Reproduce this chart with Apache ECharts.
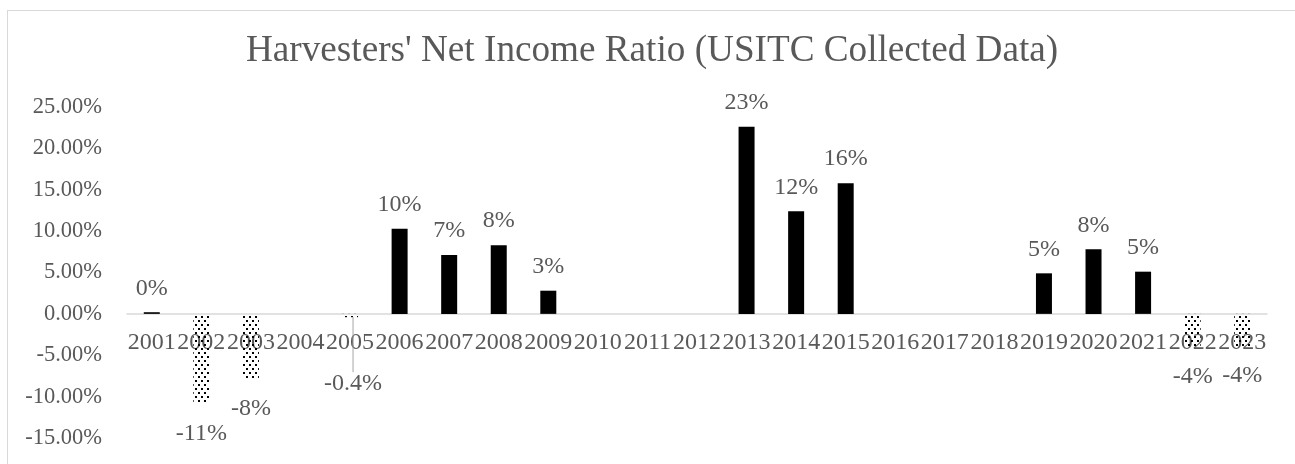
<!DOCTYPE html>
<html>
<head>
<meta charset="utf-8">
<script src="https://cdn.jsdelivr.net/npm/echarts@6/dist/echarts.min.js"></script>
<style>
  html, body { margin: 0; padding: 0; background: #fff; }
  #frame { position: absolute; left: 7px; top: 10px; width: 1300px; height: 470px; border: 1px solid #d9d9d9; }
  #chart { position: absolute; left: 0; top: 0; width: 1295px; height: 464px; }
</style>
</head>
<body>
<div id="frame"></div>
<div id="chart"></div>
<script>
// data (percent)
const years = ['2001','2002','2003','2004','2005','2006','2007','2008','2009','2010','2011','2012',
               '2013','2014','2015','2016','2017','2018','2019','2020','2021','2022','2023']
const ratios = [0.2, -10.8, -7.8, null, -0.4, 10.3, 7.1, 8.3, 2.8, null, null, null,
                22.6, 12.4, 15.8, null, null, null, 4.9, 7.8, 5.1, -4.0, -3.9]
const barLabels = ['0%','-11%','-8%','','-0.4%','10%','7%','8%','3%','','','',
                   '23%','12%','16%','','','','5%','8%','5%','-4%','-4%']
const yTicks = { min: -15, max: 25, interval: 5 }

const TEXT = '#595959'
const FONT = 'Liberation Serif'
const GRID = { left: 127, right: 28, top: 107, bottom: 26 }

// dotted fill for the negative bars
function dotPattern() {
  const c = document.createElement('canvas')
  c.width = 6; c.height = 8
  const g = c.getContext('2d')
  g.fillStyle = '#000'
  g.fillRect(0, 0, 2, 2)
  g.fillRect(3, 4, 2, 2)
  return c
}
const dots = { image: dotPattern(), repeat: 'repeat' }

const el = document.getElementById('chart')
const chart = echarts.init(el)
chart.setOption({
  animation: false,
  title: {
    text: "Harvesters' Net Income Ratio (USITC Collected Data)",
    left: 241, top: 28,
    textStyle: { fontFamily: FONT, fontSize: 37.2, fontWeight: 'normal', color: TEXT }
  },
  grid: { ...GRID, outerBoundsMode: 'none' },
  xAxis: {
    type: 'category', data: years,
    axisLine: { onZero: false, lineStyle: { color: '#d9d9d9', width: 1.5 } },
    axisTick: { show: false },
    axisLabel: { interval: 0, margin: 17, fontFamily: FONT, fontSize: 24, color: TEXT }
  },
  yAxis: {
    type: 'value', min: yTicks.min, max: yTicks.max, interval: yTicks.interval,
    splitLine: { show: false },
    axisLine: { show: false },
    axisLabel: { margin: 25, fontFamily: FONT, fontSize: 22.5, color: TEXT, formatter: v => v.toFixed(2) + '%' }
  },
  series: [{
    type: 'bar', barWidth: 16,
    data: ratios.map((v, i) => v == null ? null : {
      value: v,
      itemStyle: { color: v < 0 ? dots : '#000' },
      label: { position: v < 0 ? 'bottom' : 'top', distance: v < 0 ? 18 : 12 },
      labelLine: { show: i === 4, lineStyle: { color: '#a6a6a6', width: 1 } }
    }),
    label: {
      show: true, fontFamily: FONT, fontSize: 24, color: TEXT,
      formatter: p => barLabels[p.dataIndex]
    },
    labelLayout: p => p.dataIndex === 4 ? { dx: 3, dy: 37 } : {}
  }]
})

// move the category axis (line and labels) up to the zero line
const zeroY = chart.convertToPixel({ yAxisIndex: 0 }, 0)
const gridBottomY = el.clientHeight - GRID.bottom
chart.setOption({ xAxis: { offset: zeroY - gridBottomY } })
</script>
</body>
</html>
